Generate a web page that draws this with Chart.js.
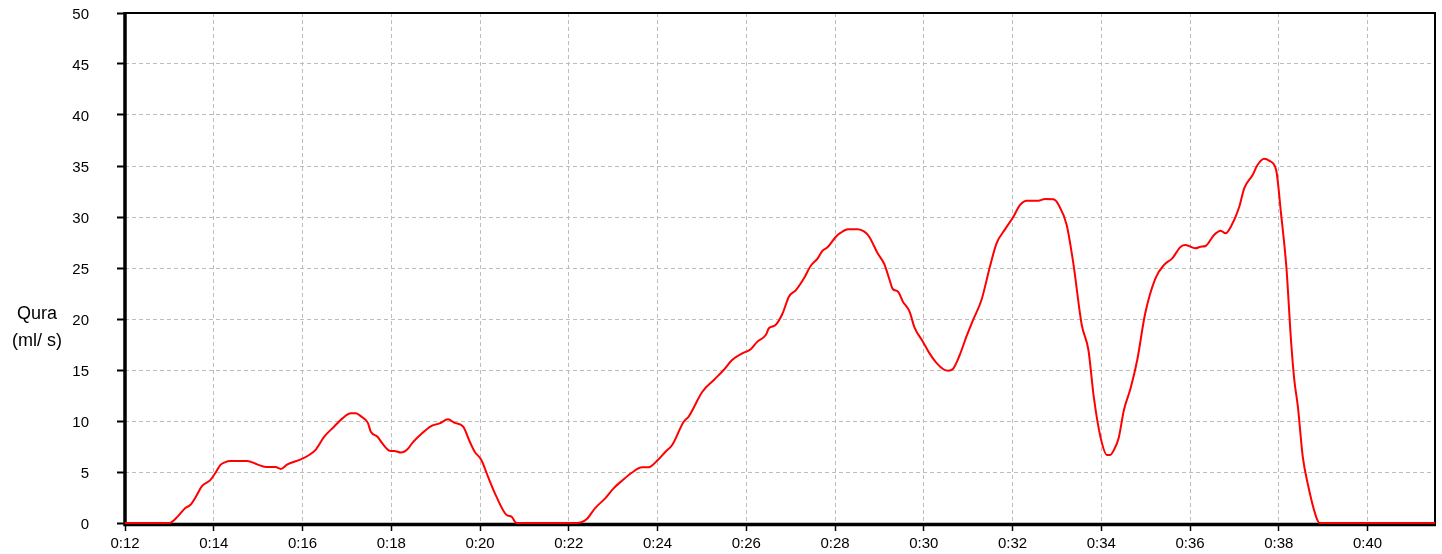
<!DOCTYPE html>
<html>
<head>
<meta charset="utf-8">
<title>Qura</title>
<script src="https://cdn.jsdelivr.net/npm/chart.js@4/dist/chart.umd.min.js"></script>
<style>
    html, body {margin: 0; padding: 0; background: #fff}
    #wrap      {width: 1442px; height: 554px; position: relative}
</style>
</head>
<body>
<div id="wrap"><canvas id="chart"></canvas></div>
<script>
// time in seconds (0:12 ... 0:41) and flow in ml/s
const times = [
    12.0, 12.5, 13.0, 13.2, 13.36, 13.47, 13.6, 13.73, 13.92, 14.05, 14.15, 14.25, 14.37, 14.75, 14.98,
    15.17, 15.39, 15.51, 15.66, 15.96, 16.15, 16.3, 16.49, 16.71, 16.9, 17.09, 17.2, 17.32, 17.47, 17.54,
    17.69, 17.8, 17.96, 18.07, 18.22, 18.37, 18.48, 18.67, 18.9, 19.09, 19.28, 19.42, 19.62, 19.77, 19.88,
    20.03, 20.18, 20.37, 20.6, 20.71, 20.82, 21.5, 22.18, 22.4, 22.59, 22.82, 23.01, 23.2, 23.42, 23.65,
    23.8, 23.99, 24.18, 24.33, 24.59, 24.7, 25.01, 25.27, 25.49, 25.68, 25.91, 26.1, 26.25, 26.44, 26.51,
    26.66, 26.82, 26.96, 27.12, 27.3, 27.45, 27.61, 27.72, 27.83, 28.02, 28.13, 28.29, 28.51, 28.66, 28.77,
    28.96, 29.11, 29.23, 29.3, 29.42, 29.53, 29.68, 29.79, 29.98, 30.13, 30.28, 30.45, 30.55, 30.65, 30.81,
    30.96, 31.11, 31.3, 31.49, 31.64, 31.83, 32.02, 32.17, 32.32, 32.58, 32.73, 32.92, 33.04, 33.22, 33.37,
    33.56, 33.71, 33.83, 33.98, 34.13, 34.2, 34.29, 34.39, 34.51, 34.66, 34.81, 34.99, 35.22, 35.41, 35.6,
    35.79, 35.9, 36.12, 36.24, 36.35, 36.54, 36.69, 36.8, 36.92, 37.11, 37.22, 37.41, 37.52, 37.67, 37.79,
    37.94, 38.05, 38.17, 38.28, 38.35, 38.43, 38.54, 38.65, 38.84, 38.92, 40.0, 41.52
];
const flow = [
    0, 0, 0, 0.7, 1.47, 1.76, 2.6, 3.6, 4.2, 5.0, 5.7, 5.95, 6.08, 6.08, 5.75,
    5.5, 5.5, 5.3, 5.75, 6.24, 6.67, 7.2, 8.46, 9.44, 10.26, 10.75, 10.75, 10.45, 9.84, 8.95,
    8.46, 7.8, 7.09, 7.06, 6.9, 7.25, 7.88, 8.7, 9.5, 9.77, 10.16, 9.84, 9.44, 7.97, 6.99,
    6.18, 4.54, 2.58, 0.78, 0.62, 0, 0, 0, 0.36, 1.44, 2.42, 3.4, 4.15, 4.93, 5.46,
    5.46, 6.1, 6.99, 7.65, 9.93, 10.42, 12.87, 14.02, 15.0, 15.98, 16.63, 17.03, 17.78, 18.43, 19.09,
    19.41, 20.56, 22.19, 22.84, 23.99, 25.2, 25.95, 26.7, 27.03, 28.07, 28.46, 28.79, 28.79, 28.56, 28.07,
    26.44, 25.39, 23.82, 22.94, 22.68, 21.7, 20.72, 19.18, 17.78, 16.63, 15.72, 15.05, 14.93, 15.07, 16.47,
    18.27, 19.9, 21.86, 25.13, 27.42, 28.79, 30.03, 31.18, 31.6, 31.6, 31.76, 31.73, 31.18, 29.22, 25.46,
    19.41, 16.96, 12.38, 8.46, 6.67, 6.67, 7.22, 8.3, 11.08, 13.2, 15.98, 20.56, 23.99, 25.29, 25.95,
    27.09, 27.25, 26.93, 27.09, 27.16, 28.24, 28.66, 28.4, 29.05, 31.01, 32.81, 34.12, 35.1, 35.7, 35.5,
    34.61, 30.36, 25.13, 17.62, 14.0, 11.4, 6.5, 3.89, 0.62, 0, 0, 0
];
const yTitle  = ['Qura', '(ml/ s)'];
const xRange  = [12, 41.52];
const yRange  = [0, 50];

const FONT    = '"Liberation Sans", Arial, sans-serif';
const AREA    = {left: 125, top: 13, right: 1435, bottom: 523};

// black frame round the plot, thick on the left and bottom
const frame = {
    id: 'frame',
    beforeDatasetsDraw(chart) {
        const {ctx, chartArea: a} = chart;
        ctx.save();
        ctx.strokeStyle = '#000';
        ctx.lineWidth   = 2;
        ctx.beginPath();
        ctx.moveTo(a.left, a.top);
        ctx.lineTo(a.right, a.top);
        ctx.lineTo(a.right, a.bottom);
        ctx.stroke();
        ctx.lineWidth   = 3.5;
        ctx.beginPath();
        ctx.moveTo(a.left, a.top - 1);
        ctx.lineTo(a.left, a.bottom + 1.5);
        ctx.lineTo(a.right + 1, a.bottom + 1.5);
        ctx.stroke();
        ctx.restore();
    },
    afterDraw(chart) {
        const ctx = chart.ctx;
        ctx.save();
        ctx.fillStyle    = '#000';
        ctx.font         = `18px ${FONT}`;
        ctx.textAlign    = 'center';
        ctx.textBaseline = 'middle';
        yTitle.forEach((t, i) => ctx.fillText(t, 37, 314 + i * 27));
        ctx.restore();
    }
};

const tickFont = {family: FONT, size: 15};

// the plot box is fixed, so drop the room Chart.js keeps for half labels
const fitX = s => {
    s.height       = 554 - AREA.bottom;
    s.paddingLeft  = 0;
    s.paddingRight = 0;
};
const fitY = s => {
    s.width         = AREA.left;
    s.paddingTop    = 0;
    s.paddingBottom = 0;
};

new Chart(document.getElementById('chart'), {
    type: 'line',
    data: {
        datasets: [{
            data                  : times.map((t, i) => ({x: t, y: flow[i]})),
            borderColor           : '#ff0000',
            borderWidth           : 2,
            pointRadius           : 0,
            cubicInterpolationMode: 'monotone',
            fill                  : false,
            clip                  : false
        }]
    },
    options: {
        responsive         : true,
        maintainAspectRatio: false,
        animation          : false,
        devicePixelRatio   : 1,
        layout             : {padding: {left: 0, top: AREA.top, right: 1442 - AREA.right, bottom: 0}},
        plugins            : {legend: {display: false}, tooltip: {enabled: false}},
        scales: {
            x: {
                type    : 'linear',
                min     : xRange[0],
                max     : xRange[1],
                afterFit: fitX,
                border  : {display: false, dash: [4, 3]},
                grid    : {color: '#bdbdbd', lineWidth: 1, tickLength: 8, tickColor: '#000', tickWidth: 1.5, tickBorderDash: []},
                ticks   : {
                    stepSize     : 2,
                    includeBounds: false,
                    autoSkip     : false,
                    maxRotation  : 0,
                    padding      : 4,
                    color        : '#000',
                    font         : tickFont,
                    callback     : v => '0:' + String(v).padStart(2, '0')
                }
            },
            y: {
                min     : yRange[0],
                max     : yRange[1],
                afterFit: fitY,
                border  : {display: false, dash: [4, 3]},
                grid    : {color: '#bdbdbd', lineWidth: 1, tickLength: 8, tickColor: '#000', tickWidth: 2, tickBorderDash: []},
                ticks   : {stepSize: 5, padding: 28, labelOffset: 2, color: '#000', font: tickFont}
            }
        }
    },
    plugins: [frame]
});
</script>
</body>
</html>
